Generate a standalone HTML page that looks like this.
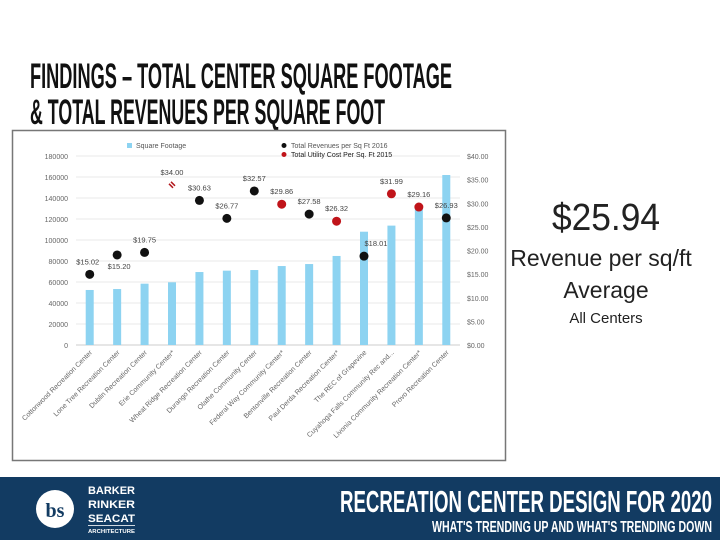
<!DOCTYPE html>
<html><head><meta charset="utf-8"><style>
html,body{margin:0;padding:0;background:#fff;}
svg{display:block;font-family:"Liberation Sans",sans-serif;}
</style></head><body>
<svg id="slide" width="720" height="540" viewBox="0 0 720 540">
<rect width="720" height="540" fill="#fff"/>
<g font-weight="bold" font-size="35" fill="#111">
<text x="30" y="88" textLength="422" lengthAdjust="spacingAndGlyphs">FINDINGS – TOTAL CENTER SQUARE FOOTAGE</text>
<text x="30" y="124" textLength="355" lengthAdjust="spacingAndGlyphs">&amp; TOTAL REVENUES PER SQUARE FOOT</text>
</g>
<rect x="12.5" y="130.5" width="493" height="330" fill="#fff" stroke="#777" stroke-width="1.5"/>
<g id="chart"></g>
<g fill="#222" text-anchor="middle">
<text x="606" y="230" font-size="38" textLength="108" lengthAdjust="spacingAndGlyphs">$25.94</text>
<text x="601" y="266" font-size="23">Revenue per sq/ft</text>
<text x="606" y="298" font-size="23">Average</text>
<text x="606" y="323" font-size="15">All Centers</text>
</g>
<g>
<rect x="0" y="477" width="720" height="63" fill="#123b62"/>
<circle cx="55" cy="509" r="19" fill="#fff"/>
<text x="55" y="517" font-size="20" font-family="Liberation Serif,serif" font-weight="bold" fill="#123b62" text-anchor="middle">bs</text>
<g fill="#fff" font-size="11" font-weight="bold">
<text x="88" y="494" textLength="47" lengthAdjust="spacingAndGlyphs">BARKER</text>
<text x="88" y="508" textLength="47" lengthAdjust="spacingAndGlyphs">RINKER</text>
<text x="88" y="522" textLength="47" lengthAdjust="spacingAndGlyphs">SEACAT</text>
<rect x="88" y="525" width="47" height="0.8"/>
<text x="88" y="533" font-size="5" textLength="47" lengthAdjust="spacingAndGlyphs">ARCHITECTURE</text>
</g>
<text x="712" y="512" fill="#fff" font-size="31" font-weight="bold" text-anchor="end" textLength="372" lengthAdjust="spacingAndGlyphs">RECREATION CENTER DESIGN FOR 2020</text>
<text x="712" y="532" fill="#fff" font-size="16" font-weight="bold" text-anchor="end" textLength="280" lengthAdjust="spacingAndGlyphs">WHAT'S TRENDING UP AND WHAT'S TRENDING DOWN</text>
</g>
</svg>
<script>
const categories = ["Cottonwood Recreation Center","Lone Tree Recreation Center","Dublin Recreation Center","Erie Community Center*","Wheat Ridge Recreation Center","Durango Recreation Center","Olathe Community Center","Federal Way Community Center*","Bentonville Recreation Center","Paul Derda Recreation Center*","The REC of Grapevine","Cuyahoga Falls Community Rec and...","Livonia Community Recreation Center*","Provo Recreation Center"];
const squareFootage = [52400,53300,58400,59700,69500,70800,71400,75200,77100,84800,107900,113700,130200,161900];
const perSqFt = [14.96,19.05,19.6,33.9,30.6,26.8,32.6,29.8,27.7,26.2,18.8,32.0,29.2,26.9];
const series = ["rev","rev","rev","util-x","rev","rev","rev","util","rev","util","rev","util","util","rev"];
const valueLabels = ["$15.02","$15.20","$19.75","$34.00","$30.63","$26.77","$32.57","$29.86","$27.58","$26.32","$18.01","$31.99","$29.16","$26.93"];
const leftTicks = [0,20000,40000,60000,80000,100000,120000,140000,160000,180000];
const rightTicks = ["$0.00","$5.00","$10.00","$15.00","$20.00","$25.00","$30.00","$35.00","$40.00"];

const NS="http://www.w3.org/2000/svg";
const g=document.getElementById('chart');
const X0=76,X1=460,Y0=345,Y1=156;
const step=(X1-X0)/categories.length;
const xc=i=>X0+step*(i+0.5);
const yl=v=>Y0-(v/180000)*(Y0-Y1);
const yr=v=>Y0-(v/40)*(Y0-Y1);
function mk(tag,attrs,parent){const e=document.createElementNS(NS,tag);for(const k in attrs)e.setAttribute(k,attrs[k]);(parent||g).appendChild(e);return e;}
leftTicks.forEach((t,i)=>{
  const gl=mk('line',{x1:X0,x2:X1,y1:yl(t),y2:yl(t),stroke:i===0?'#ccc':'#e8e8e8','stroke-width':1});
  
  
  const tx=mk('text',{x:68,y:yl(t)+3,'font-size':7,fill:'#666','text-anchor':'end'});
  tx.textContent=String(t);
  
  
});
rightTicks.forEach((t,i)=>{
  const tx=mk('text',{x:467,y:yr(i*5)+3,'font-size':7,fill:'#666'});
  tx.textContent=t;
  
  
});
squareFootage.forEach((v,i)=>{
  const b=mk('rect',{x:xc(i)-4,y:yl(v),width:8,height:Y0-yl(v),fill:'#8dd3f1'});
  
  
});
categories.forEach((c,i)=>{
  const tx=mk('text',{x:0,y:0,'font-size':7,fill:'#666','text-anchor':'end',transform:`translate(${xc(i)+3},${Y0+8}) rotate(-45)`});
  tx.textContent=c;
  
  
});
const labOff=[[-2,-10],[2,14],[0,-10],[0,-10],[0,-10],[0,-10],[0,-10],[0,-10],[0,-10],[0,-10],[12,-10],[0,-10],[0,-10],[0,-10]];
perSqFt.forEach((v,i)=>{
  const x=xc(i),y=yr(v),s=series[i];
  let m;
  if(s==='util-x'){
    m=mk('path',{d:`M${x-3} ${y-1} l4 4 M${x-1} ${y-3} l4 4`,stroke:'#b3181d','stroke-width':1.5});
  } else {
    m=mk('circle',{cx:x,cy:y,r:4.5,fill:s==='rev'?'#111':'#c0141a'});
  }
  
  
  const tx=mk('text',{x:x+labOff[i][0],y:y+labOff[i][1],'font-size':7.5,fill:'#444','text-anchor':'middle'});
  tx.textContent=valueLabels[i];
  
  
});
const lg=mk('g',{});


mk('rect',{x:127,y:143,width:5,height:5,fill:'#8dd3f1'},lg);
const l1=mk('text',{x:136,y:148,'font-size':7,fill:'#555'},lg);l1.textContent='Square Footage';
mk('circle',{cx:284,cy:145.5,r:2.5,fill:'#111'},lg);
const l2=mk('text',{x:291,y:148,'font-size':7,fill:'#555'},lg);l2.textContent='Total Revenues per Sq Ft 2016';
mk('circle',{cx:284,cy:154.5,r:2.5,fill:'#c0141a'},lg);
const l3=mk('text',{x:291,y:157,'font-size':7,fill:'#222'},lg);l3.textContent='Total Utility Cost Per Sq. Ft 2015';
</script>
</body></html>
